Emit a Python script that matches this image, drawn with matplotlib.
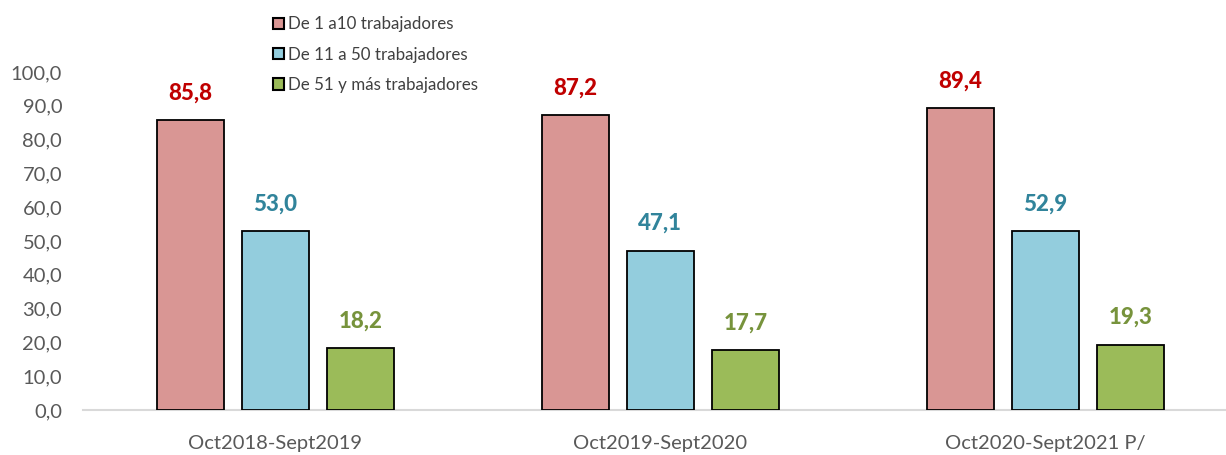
import matplotlib.pyplot as plt
import numpy as np
from matplotlib.patches import Patch

# datos
periodos = ['Oct2018-Sept2019', 'Oct2019-Sept2020', 'Oct2020-Sept2021 P/']
series = ['De 1 a10 trabajadores', 'De 11 a 50 trabajadores', 'De 51 y más trabajadores']
v_1a10 = [85.8, 87.2, 89.4]
v_11a50 = [53.0, 47.1, 52.9]
v_51mas = [18.2, 17.7, 19.3]

colores = ['#D99694', '#93CDDD', '#9BBB59']
col_etiq = ['#C00000', '#31849B', '#77933C']

plt.rcParams['font.family'] = ['Lato', 'DejaVu Sans']

fig = plt.figure(figsize=(12.26, 4.55), dpi=100)
ax = fig.add_axes([83/1226, 1-410/455, (1226-83)/1226, (410-72)/455])

x = np.arange(len(periodos))
ancho = 0.174
paso = 0.221
for i, vals in enumerate([v_1a10, v_11a50, v_51mas]):
    pos = x + (i-1)*paso
    ax.bar(pos, vals, width=ancho, color=colores[i], edgecolor='black', linewidth=1.3, zorder=3)
    for p, v in zip(pos, vals):
        ax.annotate(f'{v:.1f}'.replace('.', ','), (p, v), xytext=(0, 12), textcoords='offset points',
                    ha='center', va='bottom', fontsize=16, fontweight='black', color=col_etiq[i],
                    annotation_clip=False)

ax.set_xlim(-0.5, 2.47)
ax.set_ylim(0, 100)
ax.set_yticks(np.arange(0, 101, 10))
ax.set_yticklabels([f'{t:.1f}'.replace('.', ',') for t in np.arange(0, 101, 10)])
ax.set_xticks(x)
ax.set_xticklabels(periodos)
ax.tick_params(axis='y', length=0, pad=15, labelsize=14.5, labelcolor='#595959')
ax.tick_params(axis='x', length=0, pad=18, labelsize=14.5, labelcolor='#595959')
for s in ['top', 'right', 'left']:
    ax.spines[s].set_visible(False)
ax.spines['bottom'].set_color('#D9D9D9')
ax.spines['bottom'].set_linewidth(1.5)

handles = [Patch(facecolor=c, edgecolor='black', linewidth=1.5) for c in colores]
fig.legend(handles, series, loc='upper left', bbox_to_anchor=(258/1226, 1-1/455), frameon=False,
           fontsize=12.2, handlelength=0.65, handleheight=0.65, handletextpad=0.25,
           labelspacing=0.85, labelcolor='#404040')

plt.savefig('out.png', dpi=100)
